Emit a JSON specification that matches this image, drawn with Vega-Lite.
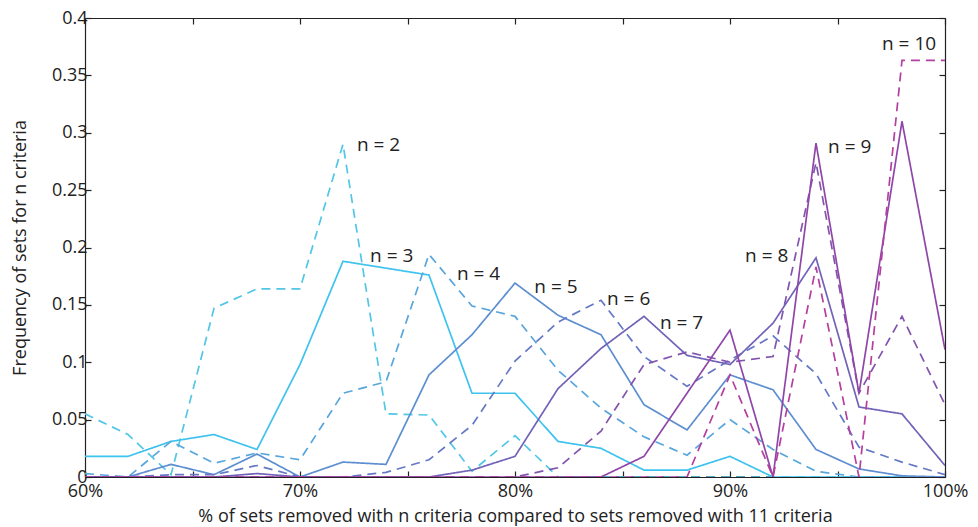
{
  "$schema": "https://vega.github.io/schema/vega-lite/v6.json",
  "autosize": {"type": "none"},
  "width": 860,
  "height": 459,
  "padding": {"left": 85, "top": 18, "right": 33, "bottom": 50},
  "background": "white",
  "config": {
    "view": {"stroke": null},
    "font": "Open Sans",
    "axis": {
      "domainColor": "#222",
      "domainWidth": 1.2,
      "tickColor": "#222",
      "tickWidth": 1.2,
      "tickSize": -6,
      "grid": false,
      "labelFont": "Open Sans",
      "labelFontSize": 18,
      "labelColor": "#222",
      "titleFont": "Open Sans",
      "titleFontSize": 18,
      "titleFontWeight": "normal",
      "titleColor": "#222"
    }
  },
  "datasets": {
    "freq": [
      {"x": 60, "n2": 0.055, "n3": 0.018, "n4": 0.003, "n5": 0, "n6": 0, "n7": 0, "n8": 0, "n9": 0, "n10": 0, "base": null},
      {"x": 62, "n2": 0.037, "n3": 0.018, "n4": 0, "n5": 0, "n6": 0, "n7": 0, "n8": 0, "n9": 0, "n10": 0, "base": null},
      {"x": 64, "n2": 0.002, "n3": 0.031, "n4": 0.031, "n5": 0.011, "n6": 0.002, "n7": 0, "n8": 0, "n9": 0, "n10": 0, "base": null},
      {"x": 66, "n2": 0.147, "n3": 0.037, "n4": 0.012, "n5": 0.002, "n6": 0.002, "n7": 0, "n8": 0, "n9": 0, "n10": 0, "base": null},
      {"x": 68, "n2": 0.164, "n3": 0.024, "n4": 0.021, "n5": 0.02, "n6": 0.01, "n7": 0.003, "n8": 0, "n9": 0, "n10": 0, "base": null},
      {"x": 70, "n2": 0.164, "n3": 0.098, "n4": 0.015, "n5": 0, "n6": 0, "n7": 0, "n8": 0, "n9": 0, "n10": 0, "base": null},
      {"x": 72, "n2": 0.29, "n3": 0.188, "n4": 0.073, "n5": 0.013, "n6": 0, "n7": 0, "n8": 0, "n9": 0, "n10": 0, "base": null},
      {"x": 74, "n2": 0.055, "n3": 0.182, "n4": 0.083, "n5": 0.011, "n6": 0.004, "n7": 0, "n8": 0, "n9": 0, "n10": 0, "base": null},
      {"x": 76, "n2": 0.054, "n3": 0.176, "n4": 0.194, "n5": 0.089, "n6": 0.015, "n7": 0, "n8": 0, "n9": 0, "n10": 0, "base": null},
      {"x": 78, "n2": 0.005, "n3": 0.073, "n4": 0.149, "n5": 0.124, "n6": 0.045, "n7": 0.006, "n8": 0, "n9": 0, "n10": 0, "base": null},
      {"x": 80, "n2": 0.036, "n3": 0.073, "n4": 0.14, "n5": 0.169, "n6": 0.101, "n7": 0.018, "n8": 0, "n9": 0, "n10": 0, "base": null},
      {"x": 82, "n2": 0, "n3": 0.031, "n4": 0.093, "n5": 0.141, "n6": 0.135, "n7": 0.077, "n8": 0.008, "n9": 0, "n10": 0, "base": null},
      {"x": 84, "n2": 0, "n3": 0.025, "n4": 0.06, "n5": 0.124, "n6": 0.154, "n7": 0.112, "n8": 0.04, "n9": 0, "n10": 0, "base": 0},
      {"x": 86, "n2": 0, "n3": 0.006, "n4": 0.035, "n5": 0.063, "n6": 0.105, "n7": 0.14, "n8": 0.098, "n9": 0.018, "n10": 0, "base": 0},
      {"x": 88, "n2": 0, "n3": 0.006, "n4": 0.019, "n5": 0.041, "n6": 0.079, "n7": 0.106, "n8": 0.109, "n9": 0.073, "n10": 0, "base": 0},
      {"x": 90, "n2": 0, "n3": 0.018, "n4": 0.05, "n5": 0.089, "n6": 0.102, "n7": 0.098, "n8": 0.1, "n9": 0.128, "n10": 0.089, "base": 0},
      {"x": 92, "n2": 0, "n3": 0, "n4": 0.024, "n5": 0.076, "n6": 0.123, "n7": 0.134, "n8": 0.105, "n9": 0, "n10": 0, "base": 0},
      {"x": 94, "n2": 0, "n3": 0, "n4": 0.005, "n5": 0.024, "n6": 0.09, "n7": 0.191, "n8": 0.274, "n9": 0.291, "n10": 0.183, "base": null},
      {"x": 96, "n2": 0, "n3": 0, "n4": 0, "n5": 0.007, "n6": 0.026, "n7": 0.061, "n8": 0.073, "n9": 0.073, "n10": 0, "base": null},
      {"x": 98, "n2": 0, "n3": 0, "n4": 0, "n5": 0.001, "n6": 0.013, "n7": 0.055, "n8": 0.14, "n9": 0.31, "n10": 0.363, "base": null},
      {"x": 100, "n2": 0, "n3": 0, "n4": 0, "n5": 0, "n6": 0.002, "n7": 0.01, "n8": 0.063, "n9": 0.111, "n10": 0.363, "base": null}
    ],
    "labels": [
      {"label": "n = 2", "x": 72.65, "y": 0.289},
      {"label": "n = 3", "x": 73.26, "y": 0.193},
      {"label": "n = 4", "x": 77.3, "y": 0.177},
      {"label": "n = 5", "x": 80.9, "y": 0.166},
      {"label": "n = 6", "x": 84.28, "y": 0.155},
      {"label": "n = 7", "x": 86.74, "y": 0.134},
      {"label": "n = 8", "x": 90.7, "y": 0.193},
      {"label": "n = 9", "x": 94.56, "y": 0.288},
      {"label": "n = 10", "x": 97.07, "y": 0.377}
    ]
  },
  "layer": [
    {
      "data": {"name": "freq"},
      "transform": [
        {"fold": ["base", "n2", "n3", "n4", "n5", "n6", "n7", "n8", "n9", "n10"], "as": ["series", "freq"]}
      ],
      "mark": {"type": "line", "strokeWidth": 1.7, "clip": true},
      "encoding": {
        "x": {
          "field": "x", "type": "quantitative",
          "scale": {"domain": [60, 100], "nice": false},
          "axis": {
            "orient": "bottom",
            "values": [60, 65, 70, 75, 80, 85, 90, 95, 100],
            "labelExpr": "datum.value % 10 == 0 ? datum.value + '%' : ''",
            "labelPadding": 11,
            "labelFlush": false,
            "title": "% of sets removed with n criteria compared to sets removed with 11 criteria",
            "titleFontSize": 18,
            "titlePadding": 7
          }
        },
        "y": {
          "field": "freq", "type": "quantitative",
          "scale": {"domain": [0, 0.4], "nice": false},
          "axis": {
            "orient": "left",
            "values": [0, 0.05, 0.1, 0.15, 0.2, 0.25, 0.3, 0.35, 0.4],
            "format": "~g",
            "labelPadding": 4,
            "title": "Frequency of sets for n criteria",
            "titlePadding": 22
          }
        },
        "color": {
          "field": "series", "type": "nominal",
          "scale": {
            "domain": ["base", "n2", "n3", "n4", "n5", "n6", "n7", "n8", "n9", "n10"],
            "range": ["#222222", "#52C6E6", "#3EC2EE", "#58A6DC", "#5C8ED0", "#6478C6", "#7262B8", "#8354AE", "#8F46A8", "#B43F9E"]
          },
          "legend": null
        },
        "strokeDash": {
          "field": "series", "type": "nominal",
          "scale": {
            "domain": ["base", "n2", "n3", "n4", "n5", "n6", "n7", "n8", "n9", "n10"],
            "range": [[9, 6], [9, 6], [1, 0], [9, 6], [1, 0], [9, 6], [1, 0], [9, 6], [1, 0], [9, 6]]
          },
          "legend": null
        },
        "order": {"field": "x", "type": "quantitative"}
      }
    },
    {
      "data": {"name": "labels"},
      "mark": {"type": "text", "align": "left", "baseline": "middle", "fontSize": 19, "font": "Open Sans", "color": "#222"},
      "encoding": {
        "x": {
          "field": "x", "type": "quantitative",
          "axis": {"orient": "top", "values": [60, 65, 70, 75, 80, 85, 90, 95, 100], "labels": false, "title": null}
        },
        "y": {
          "field": "y", "type": "quantitative",
          "axis": {"orient": "right", "values": [0, 0.05, 0.1, 0.15, 0.2, 0.25, 0.3, 0.35, 0.4], "labels": false, "title": null}
        },
        "text": {"field": "label"}
      }
    }
  ],
  "resolve": {"axis": {"x": "independent", "y": "independent"}}
}
